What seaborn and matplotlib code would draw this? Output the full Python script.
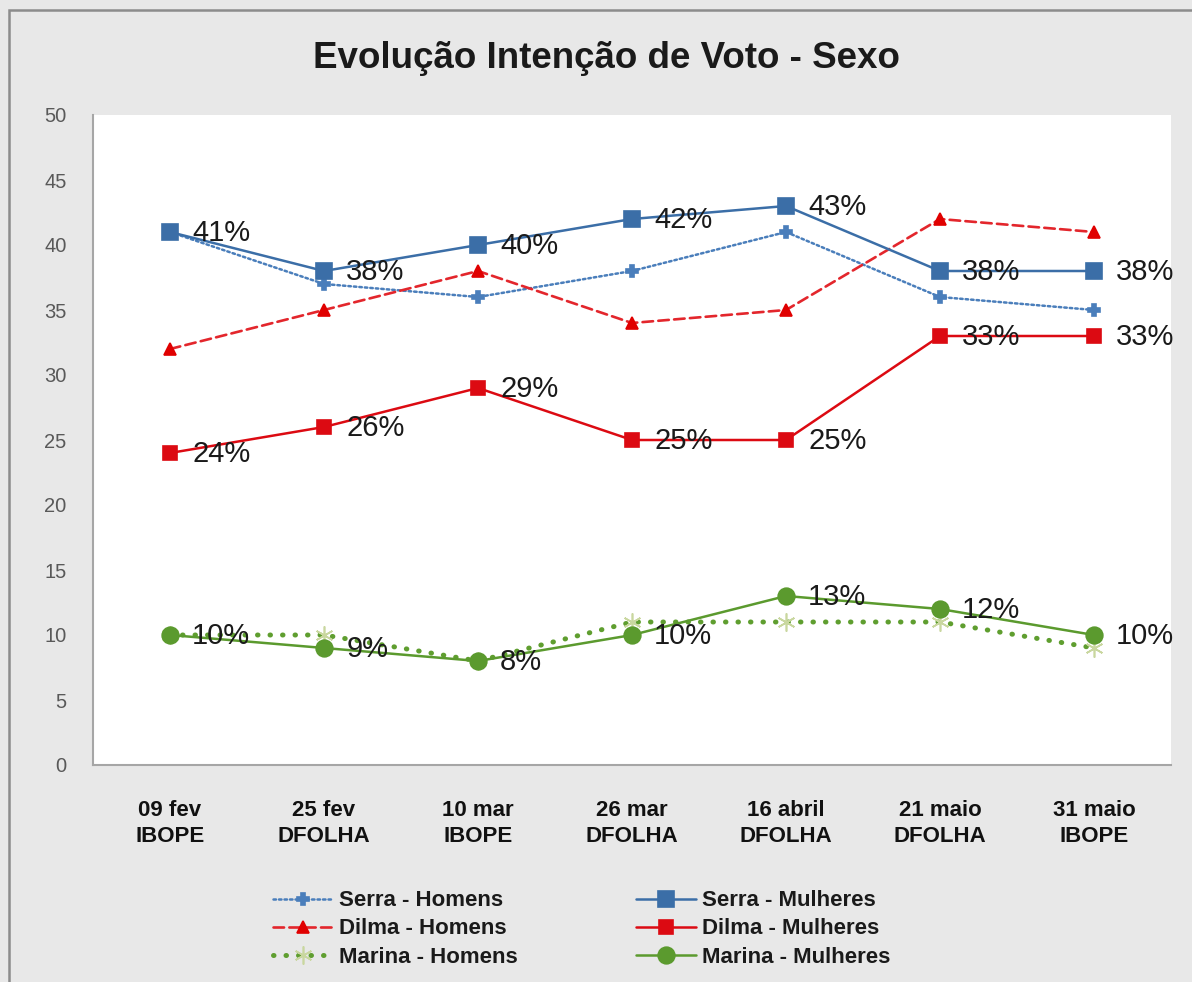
import matplotlib
matplotlib.use("Agg")
import matplotlib.pyplot as plt
import matplotlib.patches as mpatches
import seaborn as sns
import numpy as np
import pandas as pd

# data
periods = ["09 fev\nIBOPE", "25 fev\nDFOLHA", "10 mar\nIBOPE", "26 mar\nDFOLHA",
           "16 abril\nDFOLHA", "21 maio\nDFOLHA", "31 maio\nIBOPE"]
serra_homens = [41, 37, 36, 38, 41, 36, 35]
dilma_homens = [32, 35, 38, 34, 35, 42, 41]
marina_homens = [10, 10, 8, 11, 11, 11, 9]
serra_mulheres = [41, 38, 40, 42, 43, 38, 38]
dilma_mulheres = [24, 26, 29, 25, 25, 33, 33]
marina_mulheres = [10, 9, 8, 10, 13, 12, 10]

sns.set_theme(style="white")
plt.rcParams['font.family'] = ['Liberation Sans', 'DejaVu Sans']

bg = "#e8e8e8"
fig = plt.figure(figsize=(11.92, 9.82), dpi=100, facecolor=bg)
# outer frame of the chart
fig.patches.append(mpatches.Rectangle((9/1192, -0.1), 1.2, 1 - 10/982 + 0.1,
                                      transform=fig.transFigure, fill=False,
                                      edgecolor="#8c8c8c", linewidth=1.8))
ax = fig.add_axes([93/1192, 1 - 765/982, (1171 - 93)/1192, (765 - 115)/982])
ax.set_facecolor("white")

x = np.arange(len(periods))

# (label, values, color, linestyle, linewidth, marker, size, marker color, show labels)
series = [
    ("Serra - Homens", serra_homens, "#4a7ebb", (0, (1, 1.2)), 1.8, "P", 8, "#4a7ebb", False),
    ("Dilma - Homens", dilma_homens, "#e3262c", (0, (4, 2)), 1.9, "^", 9, "#e00000", False),
    ("Marina - Homens", marina_homens, "#5f9e2f", (0, (0.1, 2.4)), 3.6, (6, 2, 0), 13, "#c9d79f", False),
    ("Serra - Mulheres", serra_mulheres, "#3b6ea7", "-", 1.8, "s", 11, "#3b6ea7", True),
    ("Dilma - Mulheres", dilma_mulheres, "#dc0a12", "-", 1.8, "s", 10, "#dc0a12", True),
    ("Marina - Mulheres", marina_mulheres, "#5b9a2e", "-", 1.8, "o", 12, "#5b9a2e", True),
]

for name, vals, col, ls, lw, mk, ms, mcol, lab in series:
    df = pd.DataFrame({"x": x, "y": vals})
    sns.lineplot(data=df, x="x", y="y", ax=ax, color=col, linestyle=ls, linewidth=lw,
                 marker=mk, markersize=ms, markerfacecolor=mcol, markeredgecolor=mcol,
                 markeredgewidth=1.2, label=name, dash_capstyle="round")
    if lab:
        for xi, v in zip(x, vals):
            ax.annotate(f"{v}%", (xi, v), xytext=(16, -1), textcoords="offset points",
                        ha="left", va="center", fontsize=21, color="#1a1a1a")

ax.set_xlim(-0.5, len(periods) - 0.5)
ax.set_ylim(0, 50)
ax.set_yticks(range(0, 51, 5))
ax.set_xticks(x)
ax.set_xticklabels(periods, fontsize=16, fontweight="bold", color="#111111", linespacing=1.35)
ax.tick_params(axis="y", labelsize=14.5, labelcolor="#595959", pad=19, length=0)
ax.tick_params(axis="x", pad=25, length=0)
ax.set_xlabel("")
ax.set_ylabel("")
for s in ["top", "right"]:
    ax.spines[s].set_visible(False)
for s in ["left", "bottom"]:
    ax.spines[s].set_color("#a6a6a6")
    ax.spines[s].set_linewidth(1.5)

fig.text(0.509, 1 - 58/982, "Evolução Intenção de Voto - Sexo", ha="center", va="center",
         fontsize=26.5, fontweight="bold", color="#1a1a1a")

ax.legend_.remove()
h, l = ax.get_legend_handles_labels()
fig.legend(h, l, ncol=2, loc="center left", bbox_to_anchor=(262/1192, 1 - 929/982), frameon=False,
           prop={"size": 16, "weight": "bold"}, handlelength=2.7, columnspacing=5.35,
           labelspacing=0.32, handletextpad=0.25, borderpad=0, labelcolor="#1a1a1a")

fig.savefig("out.png", dpi=100, facecolor=bg)
